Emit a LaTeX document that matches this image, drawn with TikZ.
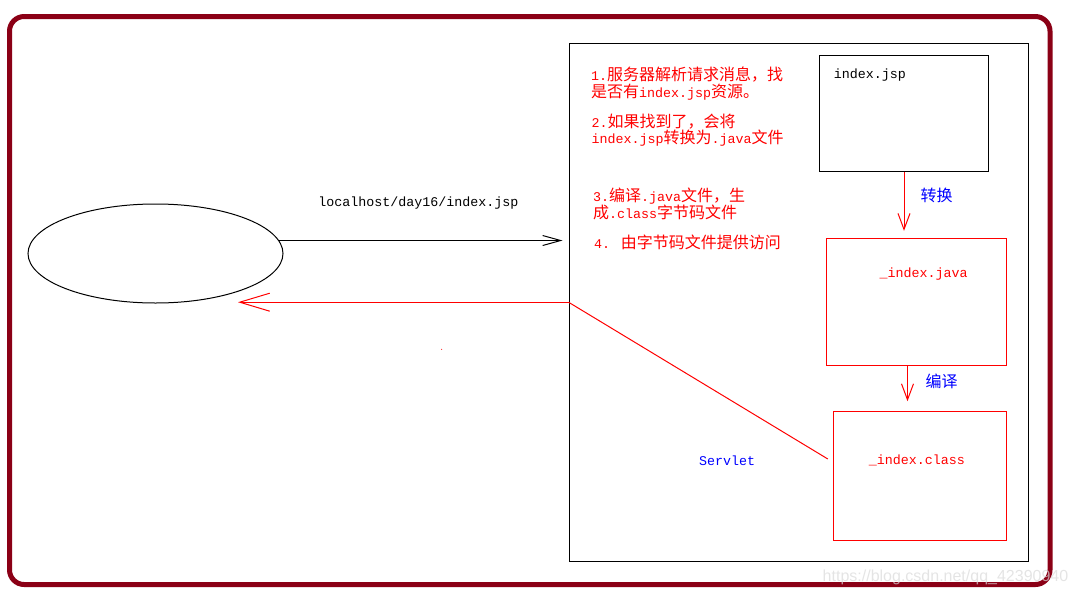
\documentclass[tikz,border=0pt]{standalone}
\usepackage{fontspec}
\setmainfont{Liberation Mono}[Scale=0.8333]
\newfontfamily\cjk{Noto Sans CJK SC}
\newfontfamily\wmfont{Liberation Sans}
\usepackage{tikz}
\usetikzlibrary{calc,arrows.meta,shapes.geometric}
\definecolor{frame}{RGB}{139,0,22}
\newcommand{\zh}[1]{{\cjk #1}}

\begin{document}
\begin{tikzpicture}[x=0.75pt,y=-0.75pt,line width=0.75pt]
                      \tikzstyle{txt}=[font=\fontsize{12pt}{12.5pt}\selectfont,inner sep=0pt]
                      \tikzstyle{note}=[txt,red,align=left,anchor=west]
                      \tikzstyle{file}=[draw,rectangle,inner sep=0pt]
                      \tikzstyle{barb}=[-{Straight Barb[length=13.5pt,width=7.5pt]}]
                      \tikzstyle{backbarb}=[-{Straight Barb[length=22.5pt,width=13.5pt]}]
                      \tikzstyle{downbarb}=[-{Straight Barb[length=12pt,width=9pt]}]
                      \useasboundingbox (0,0) rectangle (1077,596);
                      \draw[frame,line width=3.75pt,rounded corners=11pt] (9.5,16.5) rectangle (1050,584.5);
                      \node[draw,ellipse,inner sep=0pt,minimum width=191.25pt,minimum height=74.25pt] (b) at (155.5,253.5) {};
                      \node[file,minimum width=344.8pt,minimum height=388.3pt] (s) at (798.9,302.2) {};
                      \node[file,minimum width=127pt,minimum height=87.2pt] (j) at (904,113.2) {};
                      \node[file,red,minimum width=135.3pt,minimum height=95.25pt] (v) at (916.5,301.8) {};
                      \node[file,red,minimum width=130pt,minimum height=96.45pt] (c) at (920,476) {};
                      % texts
                      \node[txt] (u) at (418.5,203.3) {localhost/day16/index.jsp};
                      \node[txt,anchor=west] (jt) at (833.3,75) {index.jsp};
                      \node[txt,red] (vt) at (923.6,274.3) {\_index.java};
                      \node[txt,red] (ct) at (916.8,460) {\_index.class};
                      \node[note] (n1) at (590.7,83.3) {1.\zh{服务器解析请求消息，找}\\\zh{是否有}index.jsp\zh{资源。}};
                      \node[note] (n2) at (591,130) {2.\zh{如果找到了，会将}\\index.jsp\zh{转换为}.java\zh{文件}};
                      \node[note] (n3) at (592.7,203.9) {3.\zh{编译}.java\zh{文件，生}\\\zh{成}.class\zh{字节码文件}};
                      \node[note] (n4) at (593.7,242.7) {4. \zh{由字节码文件提供访问}};
                      \node[txt,blue] (t1) at (936.5,195) {\zh{转换}};
                      \node[txt,blue] (t2) at (941.7,381.7) {\zh{编译}};
                      \node[txt,blue] (sv) at (727,460.7) {Servlet};
                      % arrows
                      \coordinate (back) at (238,302.2);
                      \draw[barb,shorten >=4.5pt] (b.6) -- (b.6 -| s.west);
                      \draw[red,backbarb] (s.west) -- (back);
                      \draw[red] ($(c.west)+(-5,-17)$) -- (s.west);
                      \draw[red,downbarb,shorten >=5.25pt] (j.south) -- (j.south |- v.north);
                      \draw[red,downbarb,shorten >=7.5pt] ($(v.south)+(-9,0)$) -- ($(v.south |- c.north)+(-9,0)$);
                      \fill[red] (441.7,349.3) circle (0.4pt);
                      \node[font=\wmfont\fontsize{12pt}{14pt}\selectfont,text=gray!30,text opacity=0.7] (wm) at (945.5,577) {https://blog.csdn.net/qq\_42390940};
                  \end{tikzpicture}
\end{document}
